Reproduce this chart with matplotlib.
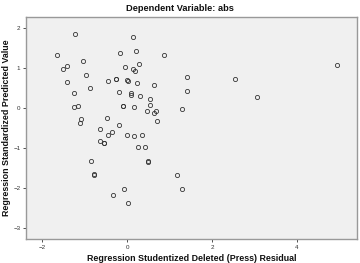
import matplotlib
matplotlib.use('Agg')
import matplotlib.pyplot as plt

# residual (x) vs standardized predicted value (y)
resid = [-1.64, -1.23, -1.52, -1.42, -1.41, -1.04, -0.96, -1.25, -0.87, -1.25,
         -1.16, -1.08, -1.10, 0.13, -0.16, 0.20, 0.87, 0.27, -0.06, 0.15,
         0.18, -0.26, -0.44, -0.01, 0.02, 0.23, 0.63, 1.40, 1.42, -0.18,
         0.08, 0.10, 0.31, 0.53, 0.53, -0.09, 0.16, 0.46, 0.63, 0.69,
         0.71, 1.29, 2.55, 3.05, 4.93, -0.47, -0.19, -0.63, -0.36, -0.45,
         -0.01, 0.16, 0.35, -0.65, -0.55, 0.25, 0.41, -0.85, 0.49, -0.78,
         1.18, -0.08, 1.30, -0.33, 0.01, -0.26, -0.09, 0.49, -0.78, -0.55]
pred = [1.33, 1.86, 0.99, 1.06, 0.65, 1.18, 0.83, 0.38, 0.50, 0.03,
        0.05, -0.28, -0.36, 1.78, 1.39, 1.44, 1.33, 1.11, 1.02, 0.98,
        0.93, 0.74, 0.68, 0.71, 0.68, 0.64, 0.58, 0.78, 0.42, 0.40,
        0.37, 0.33, 0.30, 0.23, 0.08, 0.06, 0.03, -0.08, -0.11, -0.07,
        -0.32, -0.03, 0.74, 0.28, 1.09, -0.25, -0.43, -0.52, -0.60, -0.67,
        -0.68, -0.70, -0.68, -0.83, -0.86, -0.97, -0.98, -1.31, -1.33, -1.65,
        -1.68, -2.02, -2.01, -2.18, -2.36, 0.73, 0.06, -1.34, -1.66, -0.87]

xticks = [-2, 0, 2, 4]
yticks = [-3, -2, -1, 0, 1, 2]

plt.rcParams['font.family'] = ['Liberation Sans', 'DejaVu Sans']

fig = plt.figure(figsize=(3.6, 2.63), dpi=100)
ax = fig.add_axes([0.0722, 0.0913, 0.9195, 0.8441])
ax.set_facecolor('#f0f0f0')

ax.plot(resid, pred, linestyle='none', marker='o', ms=3.0,
        mfc='none', mec='#333333', mew=0.6)

ax.set_xlim(-2.38, 5.41)
ax.set_ylim(-3.27, 2.28)
ax.set_xticks(xticks)
ax.set_yticks(yticks)
ax.tick_params(labelsize=4.5, length=2.5, width=0.6, colors='#333333', pad=1.5)

for s in ax.spines.values():
    s.set_color('#999999')
    s.set_linewidth(1.0)

fig.text(0.5, 0.966, 'Dependent Variable: abs', ha='center', va='center',
         fontsize=6.7, fontweight='bold', color='#111111')
# in the reference this label touches the lower edge; keep it just inside
fig.text(0.532, 0.001, 'Regression Studentized Deleted (Press) Residual',
         ha='center', va='bottom', fontsize=6.4, fontweight='bold', color='#111111')
fig.text(0.017, 0.513, 'Regression Standardized Predicted Value', ha='center',
         va='center', rotation=90, fontsize=6.4, fontweight='bold', color='#111111')

fig.savefig('out.png', dpi=100)
